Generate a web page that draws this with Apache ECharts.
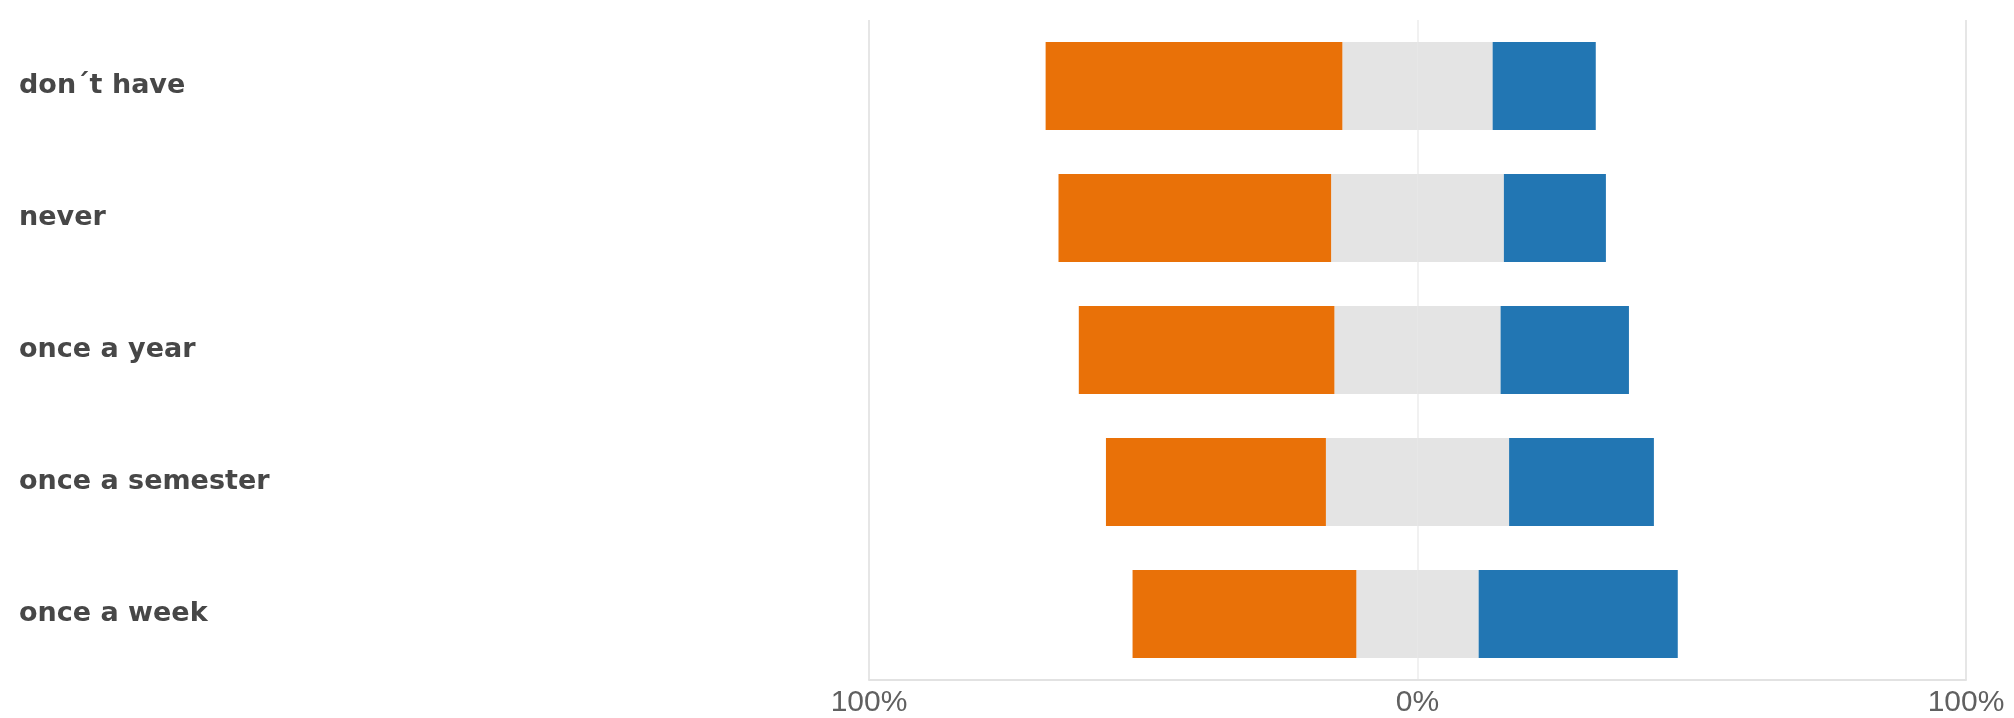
<!DOCTYPE html>
<html>
<head>
<meta charset="utf-8">
<script src="https://cdn.jsdelivr.net/npm/echarts@6/dist/echarts.min.js"></script>
<style>
html,body{margin:0;padding:0;background:#fff;}
#chart{width:2014px;height:718px;}
</style>
</head>
<body>
<div id="chart"></div>
<script>
const categories = ["don\u00b4t have", "never", "once a year", "once a semester", "once a week"];
const negative = [54.1, 49.7, 46.6, 40.1, 40.8];   // orange, left of neutral
const neutral  = [27.4, 31.5, 30.3, 33.4, 22.3];   // gray, centred on 0
const positive = [18.8, 18.6, 23.4, 26.4, 36.3];   // blue, right of neutral
const tickValues = [-100, 0, 100];

const neutralLeft = neutral.map(v => -v / 2);
const neutralRight = neutral.map(v => v / 2);
const negativeVals = negative.map(v => -v);

const chart = echarts.init(document.getElementById('chart'), null, {renderer: 'canvas'});
const barW = 88;
chart.setOption({
  animation: false,
  backgroundColor: '#ffffff',
  grid: {left: 869, right: 48, top: 20, bottom: 36, containLabel: false},
  xAxis: {
    type: 'value', min: tickValues[0], max: tickValues[2], interval: 100,
    axisLine: {show: true, lineStyle: {color: '#e2e2e2', width: 2}},
    axisTick: {show: false},
    splitLine: {show: true, lineStyle: {color: ['#e6e6e6', '#f1f1f1', '#e6e6e6'], width: 2}},
    axisLabel: {
      margin: 8,
      fontFamily: 'Liberation Sans, Arial, sans-serif',
      fontSize: 30, color: '#606060',
      formatter: v => Math.abs(v) + '%'
    }
  },
  yAxis: {
    type: 'category', data: categories, inverse: true,
    axisLine: {show: false}, axisTick: {show: false}, splitLine: {show: false},
    axisLabel: {
      align: 'left', margin: 850,
      fontFamily: 'DejaVu Sans, sans-serif', fontWeight: 'bold',
      fontSize: 27, color: '#474747'
    }
  },
  series: [
    {name: 'neutral-left', type: 'bar', stack: 'all', data: neutralLeft, barWidth: barW,
     itemStyle: {color: '#e4e4e4'}},
    {name: 'neutral-right', type: 'bar', stack: 'all', data: neutralRight, barWidth: barW,
     itemStyle: {color: '#e4e4e4'}},
    {name: 'negative', type: 'bar', stack: 'all', data: negativeVals, barWidth: barW,
     itemStyle: {color: '#e97108'}},
    {name: 'positive', type: 'bar', stack: 'all', data: positive, barWidth: barW,
     itemStyle: {color: '#2276b3'}}
  ]
});
</script>
</body>
</html>
